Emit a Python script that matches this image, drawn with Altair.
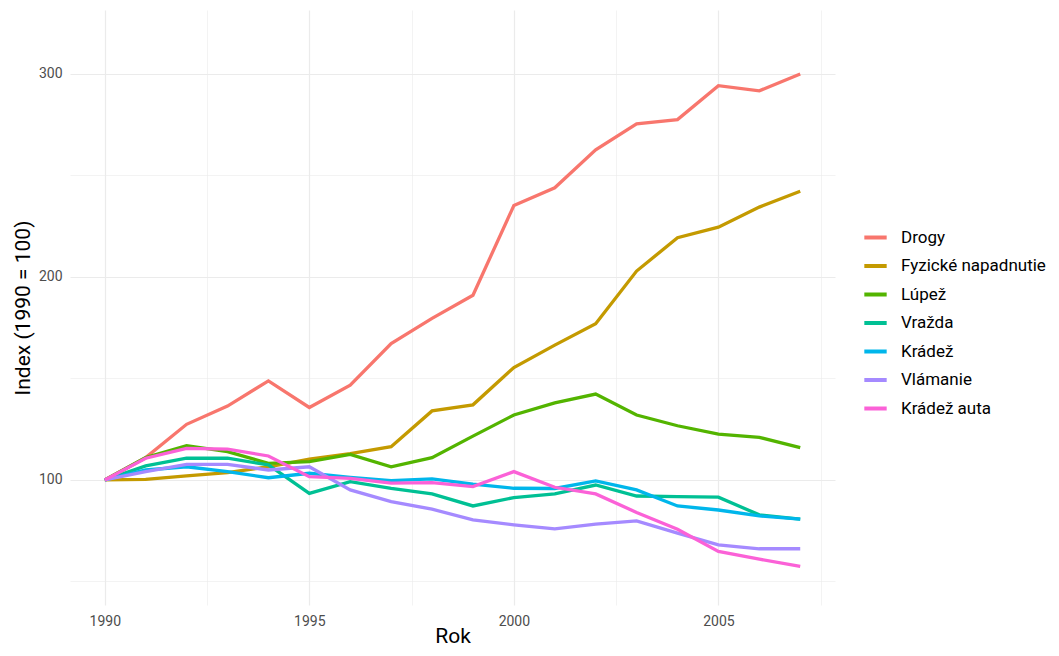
import altair as alt
import pandas as pd

years = list(range(1990, 2008))
series_names = ["Drogy", "Fyzické napadnutie", "Lúpež", "Vražda", "Krádež", "Vlámanie", "Krádež auta"]
colors = ["#F8766D", "#C49A00", "#53B400", "#00C094", "#00B6EB", "#A58AFF", "#FB61D7"]

drogy = [100, 111, 127.4, 136.4, 148.8, 135.7, 146.7, 167.2, 179.6, 191, 235.2, 243.9, 262.6, 275.4, 277.5, 294.2, 291.7, 300]
fyzicke = [100, 100.3, 102, 103.6, 106.5, 110.3, 113, 116.4, 134, 137, 155.4, 166.4, 177, 202.9, 219.3, 224.5, 234.4, 242.2]
lupez = [100, 111, 116.9, 113.9, 108.2, 109, 112.6, 106.5, 111, 121.6, 132, 138, 142.3, 132, 126.7, 122.6, 121, 115.9]
vrazda = [100, 106.9, 110.7, 110.7, 107.4, 93.4, 99.2, 95.9, 93.1, 87.2, 91.3, 93.1, 97.5, 92.1, 91.8, 91.5, 82.8, 80.7]
kradez = [100, 104.9, 106.5, 104.1, 101.1, 103.3, 101.3, 99.7, 100.5, 97.9, 95.9, 95.8, 99.5, 95.1, 87.2, 85.2, 82.3, 80.7]
vlamanie = [100, 104.1, 107.7, 107.7, 104.9, 106.5, 95.1, 89.3, 85.6, 80.3, 77.9, 75.9, 78.2, 79.8, 73.8, 68, 66.1, 66.1]
kradez_auta = [100, 110.7, 115.6, 115.2, 111.8, 101.6, 100.8, 98.4, 98.7, 96.7, 104.1, 96.4, 93.1, 84, 75.7, 64.8, 61, 57.4]

values = [drogy, fyzicke, lupez, vrazda, kradez, vlamanie, kradez_auta]
rows = []
for name, vals in zip(series_names, values):
    for y, v in zip(years, vals):
        rows.append({"Rok": y, "Index": v, "Typ": name})
df = pd.DataFrame(rows)

FONT = "Roboto"

x_axis = alt.Axis(
    values=[1990, 1992.5, 1995, 1997.5, 2000, 2002.5, 2005, 2007.5],
    labelExpr="datum.value % 5 == 0 ? format(datum.value, 'd') : ''",
    grid=True,
    gridColor="#EBEBEB",
    gridWidth={"condition": {"test": "datum.value % 5 == 0", "value": 1.2}, "value": 0.6},
    domain=False, ticks=False,
    labelColor="#4D4D4D", labelFontSize=14, labelFont=FONT, labelPadding=9,
    title="Rok", titleFontSize=21, titleFont=FONT, titleFontWeight="normal", titleColor="black",
    titlePadding=-3,
)
y_axis = alt.Axis(
    values=[50, 100, 150, 200, 250, 300],
    labelExpr="datum.value % 100 == 0 ? format(datum.value, 'd') : ''",
    grid=True,
    gridColor="#EBEBEB",
    gridWidth={"condition": {"test": "datum.value % 100 == 0", "value": 1.2}, "value": 0.6},
    domain=False, ticks=False,
    labelColor="#4D4D4D", labelFontSize=14, labelFont=FONT, labelPadding=8,
    title="Index (1990 = 100)", titleFontSize=21, titleFont=FONT, titleFontWeight="normal", titleColor="black",
    titlePadding=5,
)

chart = alt.Chart(df).mark_line(strokeWidth=3.3, clip=True).encode(
    x=alt.X("Rok:Q", scale=alt.Scale(domain=[1989.15, 2007.85], nice=False, zero=False), axis=x_axis),
    y=alt.Y("Index:Q", scale=alt.Scale(domain=[38.4, 331.5], nice=False, zero=False), axis=y_axis),
    color=alt.Color(
        "Typ:N",
        scale=alt.Scale(domain=series_names, range=colors),
        sort=series_names,
        legend=alt.Legend(
            title=None, orient="none", legendX=792, legendY=214,
            labelFont=FONT, labelFontSize=17, labelColor="black", labelLimit=400,
            symbolType="stroke", symbolStrokeWidth=4, symbolSize=500,
            rowPadding=6.5, labelOffset=12,
        ),
    ),
    detail="Typ:N",
).properties(
    width=765, height=595,
    autosize=alt.AutoSizeParams(type="none"),
    padding={"left": 62, "top": 2, "right": 214, "bottom": 43},
    background="white",
).configure_view(stroke=None)

chart.save("out.html", embed_options={"renderer": "svg", "actions": False})
